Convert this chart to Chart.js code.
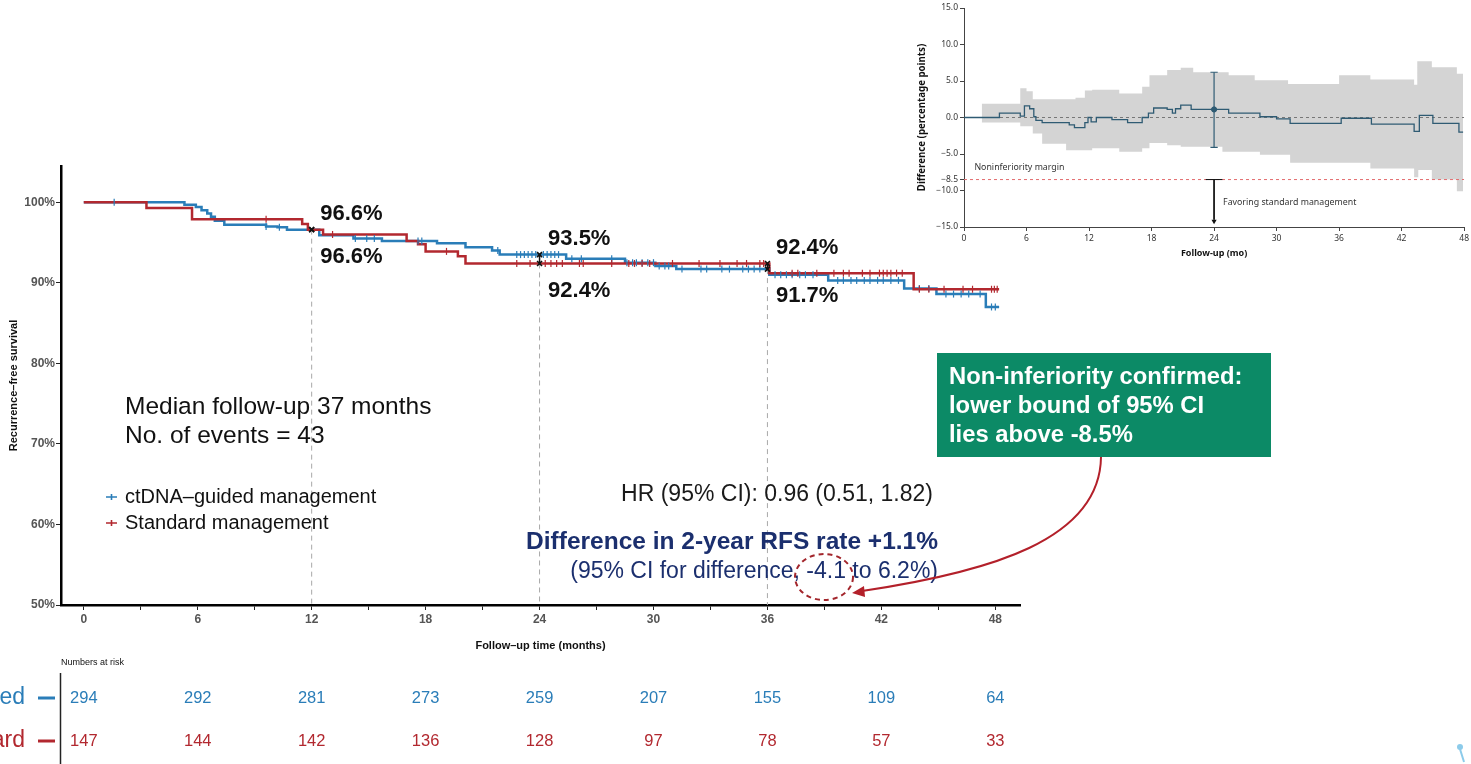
<!DOCTYPE html>
<html>
<head>
<meta charset="utf-8">
<script src="https://cdn.jsdelivr.net/npm/chart.js@4.4.0/dist/chart.umd.min.js"></script>
<style>
  html, body { margin: 0; padding: 0; background: #fff; }
  #wrap { position: relative; width: 1471px; height: 764px; overflow: hidden; background: #fff; }
  #km { position: absolute; left: 0; top: 0; }
  #diff { position: absolute; left: 915px; top: 0; }
</style>
</head>
<body>
<div id="wrap">
  <canvas id="km" width="1471" height="764"></canvas>
  <canvas id="diff" width="556" height="260"></canvas>
</div>
<script>
// ---- Kaplan-Meier recurrence-free survival (%), step start times in months ----
const ctdnaTime = [0, 5.3, 5.9, 6.2, 6.5, 6.7, 6.9, 7.4, 9.6, 10.2, 10.7, 12.4, 14.2, 15.7, 18.6, 20.1, 21.5, 21.9, 25.4, 28.5, 30.1, 31.2, 36.1, 39.2, 43.2, 44.9, 47.5, 48.2];
const ctdnaSurv = [100, 99.7, 99.4, 99.0, 98.6, 98.2, 97.7, 97.2, 97.0, 96.9, 96.6, 95.9, 95.5, 95.2, 94.9, 94.4, 94.0, 93.5, 93.0, 92.5, 92.1, 91.7, 91.0, 90.3, 89.3, 88.6, 87.0, 87.0];
const standardTime = [0, 3.3, 5.7, 11.5, 11.8, 12.6, 17.0, 17.6, 18.0, 19.7, 20.1, 36.1, 43.7, 48.2];
const standardSurv = [100, 99.3, 97.9, 97.3, 96.6, 96.0, 95.2, 94.8, 93.9, 93.3, 92.4, 91.2, 89.2, 89.2];

// censoring times (months)
const ctdnaCensor = [1.6, 9.6, 10.3, 14.3, 14.9, 15.3, 17.6, 17.8, 21.8, 22.8, 23.0, 23.2, 23.4, 23.6, 23.8, 24.2, 24.4, 24.6, 24.8, 25.0, 25.7, 26.2, 27.8, 28.6, 28.9, 29.1, 29.4, 29.7, 30.0, 30.3, 30.6, 30.8, 31.5, 32.5, 32.8, 33.6, 34.0, 34.7, 35.0, 35.3, 35.6, 36.4, 36.7, 37.0, 37.3, 37.7, 38.0, 38.4, 39.7, 40.0, 40.4, 40.7, 41.1, 41.4, 41.8, 42.1, 42.5, 42.9, 44.0, 44.5, 45.4, 45.8, 46.2, 46.6, 47.2, 47.8, 48.0];
const standardCensor = [9.6, 13.1, 19.1, 22.8, 23.5, 24.3, 24.6, 24.9, 25.2, 26.1, 26.3, 27.8, 28.7, 29.0, 29.4, 29.8, 31.0, 32.4, 33.5, 34.4, 34.9, 35.6, 35.8, 37.3, 37.6, 38.6, 39.5, 40.0, 40.3, 41.0, 41.4, 41.9, 42.1, 42.3, 42.5, 42.8, 43.1, 44.0, 44.5, 45.3, 46.3, 46.8, 47.8, 47.95, 48.1];

// landmark estimates
const landmarkMonths = [12, 24, 36];
const landmarkCtdna = [96.6, 93.5, 91.7];
const landmarkStandard = [96.6, 92.4, 92.4];

// numbers at risk
const riskMonths = [0, 6, 12, 18, 24, 30, 36, 42, 48];
const riskCtdna = [294, 292, 281, 273, 259, 207, 155, 109, 64];
const riskStandard = [147, 144, 142, 136, 128, 97, 78, 57, 33];

const kmXTicks = [0, 3, 6, 9, 12, 15, 18, 21, 24, 27, 30, 33, 36, 39, 42, 45, 48];
const kmYTicks = [50, 60, 70, 80, 90, 100];

// ---- Difference in RFS (percentage points) over follow-up ----
const diffTime = [0, 3.4, 5.4, 5.8, 6.3, 6.7, 6.9, 7.5, 10.1, 10.6, 11.6, 11.9, 12.2, 12.7, 14.2, 15.7, 17.1, 17.7, 18.2, 19.5, 20.0, 20.3, 20.8, 21.8, 25.4, 28.4, 30.0, 31.3, 36.2, 39.1, 43.2, 43.7, 45.0, 47.5, 47.9];
const diffValue = [0, 0.6, 0.2, 1.6, 1.2, 0.1, -0.4, -0.7, -1.0, -1.4, -0.7, 0, -0.6, 0, -0.3, -0.7, 0, 0.6, 1.3, 1.1, 0.6, 1.2, 1.7, 1.1, 0.6, 0.1, -0.2, -0.8, -0.1, -0.9, -1.9, 0.3, -0.8, -2.0, -2.0];
const bandTime = [1.7, 5.4, 6.0, 6.6, 7.5, 9.8, 10.7, 11.6, 12.3, 14.9, 17.1, 17.8, 19.5, 20.8, 22.0, 24.8, 25.4, 27.9, 28.4, 31.1, 31.3, 36.0, 39.0, 43.2, 43.5, 43.6, 44.9, 47.3, 47.9];
const bandHi = [1.9, 4.0, 3.6, 2.5, 2.5, 2.5, 2.7, 3.7, 3.8, 3.3, 4.2, 5.8, 6.5, 6.8, 6.2, 6.2, 5.8, 5.1, 5.1, 4.6, 4.6, 5.8, 5.2, 4.5, 7.7, 7.7, 6.9, 6.0, 6.0];
const bandLo = [-0.7, -1.2, -1.2, -2.2, -3.6, -4.5, -4.5, -4.5, -4.2, -4.7, -4.2, -3.5, -3.8, -4.0, -4.0, -4.7, -4.7, -4.7, -5.1, -5.1, -6.2, -6.2, -7.0, -8.2, -8.2, -7.2, -8.5, -10.1, -10.1];
const twoYear = { month: 24, est: 1.1, lo: -4.1, hi: 6.2 };
const margin = -8.5;
const diffXTicks = [0, 6, 12, 18, 24, 30, 36, 42, 48];
const diffYTicks = [-15, -10, -8.5, -5, 0, 5, 10, 15];

// ---- styling ----
const FAM = '"Liberation Sans", Arial, Helvetica, sans-serif';
const BLUE = '#2a7db8';
const RED = '#b2282f';
const NAVY = '#1b2f6e';
Chart.defaults.font.family = FAM;

const pts = (t, v) => t.map((x, i) => ({ x, y: v[i] }));
function stepValue(times, vals, t) {
  let v = vals[0];
  for (let i = 0; i < times.length; i++) { if (times[i] <= t) v = vals[i]; else break; }
  return v;
}

const datasets = [];
// dashed landmark guides
landmarkMonths.forEach((m, i) => {
  datasets.push({
    data: [{ x: m, y: Math.min(landmarkCtdna[i], landmarkStandard[i]) }, { x: m, y: 50 }],
    borderColor: '#a8a8a8', borderWidth: 1, borderDash: [5, 4], pointRadius: 0, order: 10
  });
});
datasets.push({ data: pts(ctdnaTime, ctdnaSurv), stepped: true, borderColor: BLUE, borderWidth: 2.5, pointRadius: 0, order: 6 });
datasets.push({ data: pts(standardTime, standardSurv), stepped: true, borderColor: RED, borderWidth: 2.5, pointRadius: 0, order: 5 });
datasets.push({
  data: ctdnaCensor.map(t => ({ x: t, y: stepValue(ctdnaTime, ctdnaSurv, t) })),
  showLine: false, pointStyle: 'line', rotation: 90, pointRadius: 3.5, borderColor: BLUE, borderWidth: 1.2, order: 4
});
datasets.push({
  data: standardCensor.map(t => ({ x: t, y: stepValue(standardTime, standardSurv, t) })),
  showLine: false, pointStyle: 'line', rotation: 90, pointRadius: 3.5, borderColor: RED, borderWidth: 1.2, order: 3
});
landmarkMonths.forEach((m, i) => {
  datasets.push({
    data: [{ x: m, y: landmarkCtdna[i] }, { x: m, y: landmarkStandard[i] }],
    borderColor: '#111', borderWidth: 1.5, pointStyle: 'crossRot', pointRadius: 3.5,
    pointBorderColor: '#111', pointBorderWidth: 1.6, order: 1
  });
});

const kmText = {
  id: 'kmText',
  afterDraw(chart) {
    const { ctx } = chart;
    const x = chart.scales.x, y = chart.scales.y;
    ctx.save();
    // landmark labels
    ctx.fillStyle = '#111';
    ctx.font = 'bold 22px ' + FAM;
    ctx.textAlign = 'left';
    ctx.textBaseline = 'middle';
    landmarkMonths.forEach((m, i) => {
      const hi = Math.max(landmarkCtdna[i], landmarkStandard[i]);
      const lo = Math.min(landmarkCtdna[i], landmarkStandard[i]);
      const px = x.getPixelForValue(m) + 8.5;
      ctx.fillText(hi.toFixed(1) + '%', px, y.getPixelForValue(hi) - 15.5);
      ctx.fillText(lo.toFixed(1) + '%', px, y.getPixelForValue(lo) + 27);
    });

    // study summary
    ctx.font = '24.5px ' + FAM;
    ctx.fillText('Median follow-up 37 months', 125, 407);
    ctx.fillText('No. of events = 43', 125, 436);

    // legend
    ctx.font = '20px ' + FAM;
    [[BLUE, 'ctDNA–guided management', 497], [RED, 'Standard management', 523]].forEach(([c, t, ly]) => {
      ctx.strokeStyle = c; ctx.lineWidth = 1.6;
      ctx.beginPath(); ctx.moveTo(106, ly); ctx.lineTo(117, ly); ctx.moveTo(111.5, ly - 3); ctx.lineTo(111.5, ly + 3); ctx.stroke();
      ctx.fillStyle = '#111';
      ctx.fillText(t, 125, ly);
    });

    // hazard ratio and difference
    ctx.textAlign = 'right';
    ctx.fillStyle = '#1a1a1a';
    ctx.font = '23px ' + FAM;
    ctx.fillText('HR (95% CI): 0.96 (0.51, 1.82)', 933, 495);
    ctx.fillStyle = NAVY;
    ctx.font = 'bold 24.5px ' + FAM;
    ctx.fillText('Difference in 2-year RFS rate +1.1%', 938, 542);
    ctx.font = '23px ' + FAM;
    ctx.fillText('(95% CI for difference, -4.1 to 6.2%)', 938, 572);

    // dashed highlight around the lower bound
    ctx.strokeStyle = '#a3262c'; ctx.lineWidth = 2; ctx.setLineDash([5, 4]);
    ctx.beginPath(); ctx.ellipse(824, 577, 29, 23, 0, 0, Math.PI * 2); ctx.stroke();
    ctx.setLineDash([]);

    // callout box
    ctx.fillStyle = '#0c8a66';
    ctx.fillRect(937, 353, 334, 104);
    ctx.fillStyle = '#fff';
    ctx.textAlign = 'left';
    ctx.font = 'bold 23.8px ' + FAM;
    ctx.fillText('Non-inferiority confirmed:', 949, 377);
    ctx.fillText('lower bound of 95% CI', 949, 406);
    ctx.fillText('lies above -8.5%', 949, 435);

    // curved arrow from the box to the highlighted bound
    ctx.strokeStyle = '#b3202a'; ctx.lineWidth = 2;
    ctx.beginPath();
    ctx.moveTo(1101, 457);
    ctx.bezierCurveTo(1100, 540, 990, 572, 862, 591);
    ctx.stroke();
    ctx.fillStyle = '#b3202a';
    ctx.beginPath();
    ctx.moveTo(852, 593); ctx.lineTo(864, 586); ctx.lineTo(865, 597); ctx.closePath(); ctx.fill();

    // numbers at risk
    ctx.fillStyle = '#111';
    ctx.font = '9px ' + FAM;
    ctx.textAlign = 'left';
    ctx.fillText('Numbers at risk', 61, 663);
    ctx.strokeStyle = '#222'; ctx.lineWidth = 1.5;
    ctx.beginPath(); ctx.moveTo(60.5, 673); ctx.lineTo(60.5, 764); ctx.stroke();
    [[BLUE, 'ctDNA–guided', 698, riskCtdna], [RED, 'Standard', 741, riskStandard]].forEach(([c, t, ry, nums]) => {
      ctx.fillStyle = c;
      ctx.font = '23px ' + FAM;
      ctx.textAlign = 'right';
      ctx.fillText(t, 25, ry);
      ctx.strokeStyle = c; ctx.lineWidth = 3;
      ctx.beginPath(); ctx.moveTo(38, ry); ctx.lineTo(55, ry); ctx.stroke();
      ctx.font = '16.5px ' + FAM;
      ctx.textAlign = 'center';
      riskMonths.forEach((m, i) => ctx.fillText(String(nums[i]), x.getPixelForValue(m), ry));
    });

    // small corner mark
    ctx.strokeStyle = '#8ccbea'; ctx.fillStyle = '#8ccbea'; ctx.lineWidth = 2;
    ctx.beginPath(); ctx.arc(1460, 747, 3, 0, Math.PI * 2); ctx.fill();
    ctx.beginPath(); ctx.moveTo(1460, 749); ctx.lineTo(1464, 762); ctx.stroke();
    ctx.restore();
  }
};

new Chart(document.getElementById('km'), {
  type: 'line',
  data: { datasets },
  options: {
    responsive: false, animation: false, devicePixelRatio: 1,
    layout: { padding: { left: 0, top: 166, right: 451, bottom: 109 } },
    plugins: { legend: { display: false }, tooltip: { enabled: false } },
    elements: { point: { radius: 0 } },
    scales: {
      x: {
        type: 'linear', min: -1.2, max: 49.3,
        afterBuildTicks: s => { s.ticks = kmXTicks.map(v => ({ value: v })); },
        afterFit: s => { s.height = 50; },
        ticks: { callback: v => (v % 6 === 0 ? String(v) : ''), autoSkip: false, maxRotation: 0, padding: 2, color: '#555', font: { size: 12, weight: 'bold' } },
        grid: { drawOnChartArea: false, drawTicks: true, tickLength: 5, color: '#222' },
        border: { display: true, color: '#000', width: 2.5 },
        title: { display: true, text: 'Follow–up time (months)', color: '#111', font: { size: 11, weight: 'bold' }, padding: { top: 0, bottom: 2 } }
      },
      y: {
        type: 'linear', min: 50, max: 104.5,
        afterBuildTicks: s => { s.ticks = kmYTicks.map(v => ({ value: v })); },
        afterFit: s => { s.width = 61; },
        ticks: { callback: v => v + '%', autoSkip: false, padding: 1, color: '#555', font: { size: 12, weight: 'bold' } },
        grid: { drawOnChartArea: false, drawTicks: true, tickLength: 5, color: '#222' },
        border: { display: true, color: '#000', width: 2.5 },
        title: { display: true, text: 'Recurrence–free survival', color: '#111', font: { size: 11, weight: 'bold' }, padding: { top: 7, bottom: 0 } }
      }
    }
  },
  plugins: [kmText]
});

// ---- difference plot ----
const TEAL = '#2f5b73';
const IFAM = '"Noto Sans", "Open Sans", sans-serif';
const diffSets = [
  { data: pts(bandTime, bandLo), stepped: true, borderWidth: 0, pointRadius: 0, fill: false, order: 9 },
  { data: pts(bandTime, bandHi), stepped: true, borderWidth: 0, pointRadius: 0, fill: '-1', backgroundColor: '#d4d4d4', order: 8 },
  { data: [{ x: 0, y: 0 }, { x: 48, y: 0 }], borderColor: '#777', borderWidth: 1, borderDash: [3, 3], pointRadius: 0, order: 7 },
  { data: [{ x: 0, y: margin }, { x: 48, y: margin }], borderColor: '#e36d6f', borderWidth: 1, borderDash: [3, 3], pointRadius: 0, order: 7 },
  { data: pts(diffTime, diffValue), stepped: true, borderColor: TEAL, borderWidth: 1.3, pointRadius: 0, order: 5 },
  { data: [{ x: twoYear.month, y: twoYear.lo }, { x: twoYear.month, y: twoYear.hi }], borderColor: TEAL, borderWidth: 1.2, pointRadius: 0, order: 4 },
  { data: [{ x: twoYear.month - 0.35, y: twoYear.hi }, { x: twoYear.month + 0.35, y: twoYear.hi }], borderColor: TEAL, borderWidth: 1.2, pointRadius: 0, order: 4 },
  { data: [{ x: twoYear.month - 0.35, y: twoYear.lo }, { x: twoYear.month + 0.35, y: twoYear.lo }], borderColor: TEAL, borderWidth: 1.2, pointRadius: 0, order: 4 },
  { data: [{ x: twoYear.month, y: twoYear.est }], showLine: false, pointRadius: 2.6, pointStyle: 'circle', backgroundColor: TEAL, borderColor: TEAL, order: 3 },
  { data: [{ x: twoYear.month, y: margin }, { x: twoYear.month, y: -14.0 }], borderColor: '#111', borderWidth: 1, pointRadius: 0, order: 2 },
  { data: [{ x: twoYear.month - 0.8, y: margin }, { x: twoYear.month + 0.8, y: margin }], borderColor: '#111', borderWidth: 1, pointRadius: 0, order: 2 },
  { data: [{ x: twoYear.month, y: -14.2 }], showLine: false, pointStyle: 'triangle', rotation: 180, pointRadius: 3, backgroundColor: '#111', borderColor: '#111', borderWidth: 0, order: 1 }
];

const diffText = {
  id: 'diffText',
  afterDraw(chart) {
    const { ctx } = chart;
    const x = chart.scales.x, y = chart.scales.y;
    ctx.save();
    ctx.fillStyle = '#333';
    ctx.font = '8.8px ' + IFAM;
    ctx.textAlign = 'left';
    ctx.textBaseline = 'middle';
    ctx.fillText('Noninferiority margin', x.getPixelForValue(1.0), y.getPixelForValue(-6.9));
    ctx.fillText('Favoring standard management', x.getPixelForValue(24) + 9, y.getPixelForValue(-11.6));
    ctx.restore();
  }
};

const fmtSigned = v => (v < 0 ? '\u2212' : '') + Math.abs(v).toFixed(1);

new Chart(document.getElementById('diff'), {
  type: 'line',
  data: { datasets: diffSets },
  options: {
    responsive: false, animation: false, devicePixelRatio: 1,
    layout: { padding: { left: 0, top: 8, right: 4, bottom: 0 } },
    plugins: { legend: { display: false }, tooltip: { enabled: false } },
    elements: { point: { radius: 0 } },
    scales: {
      x: {
        type: 'linear', min: 0, max: 48,
        afterBuildTicks: s => { s.ticks = diffXTicks.map(v => ({ value: v })); },
        afterFit: s => { s.height = 33; },
        ticks: { autoSkip: false, maxRotation: 0, padding: 2, color: '#333', font: { family: IFAM, size: 8.5 } },
        grid: { drawOnChartArea: false, drawTicks: true, tickLength: 4, color: '#444' },
        border: { display: true, color: '#444', width: 1 },
        title: { display: true, text: 'Follow-up (mo)', color: '#111', font: { family: IFAM, size: 9, weight: 'bold' }, padding: { top: 0, bottom: 1 } }
      },
      y: {
        type: 'linear', min: -15, max: 15,
        afterBuildTicks: s => { s.ticks = diffYTicks.map(v => ({ value: v })); },
        afterFit: s => { s.width = 49; },
        ticks: { callback: fmtSigned, autoSkip: false, padding: 2, color: '#333', font: { family: IFAM, size: 8.5 } },
        grid: { drawOnChartArea: false, drawTicks: true, tickLength: 4, color: '#444' },
        border: { display: true, color: '#444', width: 1 },
        title: { display: true, text: 'Difference (percentage points)', color: '#111', font: { family: IFAM, size: 9.7, weight: 'bold' }, padding: { top: 1, bottom: 0 } }
      }
    }
  },
  plugins: [diffText]
});
</script>
</body>
</html>
